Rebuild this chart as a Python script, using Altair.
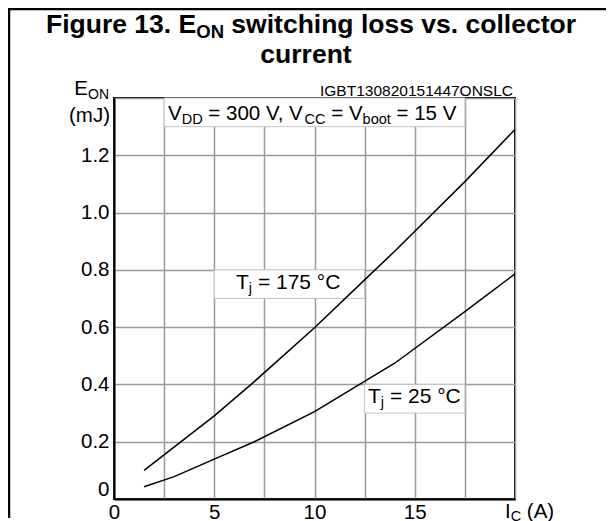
import altair as alt
import pandas as pd

# ---------------- data ----------------
ic_175 = [1.5, 5, 7, 10, 12.5, 14, 17.5, 20]
eon_175 = [0.10, 0.29, 0.41, 0.598, 0.765, 0.865, 1.108, 1.29]
ic_25 = [1.5, 3, 5, 7, 10, 14, 17.5, 20]
eon_25 = [0.043, 0.078, 0.139, 0.2, 0.305, 0.474, 0.654, 0.786]

x_grid = [0, 2.5, 5, 7.5, 10, 12.5, 15, 17.5, 20]
y_grid = [0, 0.1, 0.2, 0.3, 0.4, 0.5, 0.6, 0.7, 0.8, 0.9, 1.0, 1.1, 1.2, 1.3, 1.4]
x_labels = [0, 5, 10, 15]
y_labels = [0, 0.2, 0.4, 0.6, 0.8, 1.0, 1.2]

# white label boxes (in data units)
box_x0 = [2.5, 5, 12.5]
box_x1 = [17.5, 12.5, 17.5]
box_y0 = [1.3, 0.7, 0.3]
box_y1 = [1.4, 0.8, 0.4]

FONT = "Liberation Sans"
W, H = 401, 401

# ---------------- text width helper (Arial metrics) ----------------
REG = {' ': 278, '=': 584, ',': 278, '.': 278, '(': 333, ')': 333, '°': 400,
       'A': 667, 'B': 667, 'C': 722, 'D': 722, 'E': 667, 'G': 778, 'I': 278,
       'J': 500, 'L': 556, 'N': 722, 'O': 778, 'S': 667, 'T': 611, 'V': 667,
       'b': 556, 'j': 222, 'm': 833, 'o': 556, 't': 278}
BOLD = {' ': 278, '.': 278, 'E': 667, 'F': 611, 'N': 722, 'O': 778,
        'c': 556, 'e': 556, 'g': 611, 'h': 611, 'i': 278, 'l': 278, 'n': 611,
        'o': 611, 'r': 389, 's': 556, 't': 333, 'u': 611, 'v': 556, 'w': 778}


def text_w(t, size, bold=False):
    table = BOLD if bold else REG
    return sum((556 if ch.isdigit() else table.get(ch, 556)) for ch in t) * size / 1000.0


def rich(pieces, x, y, size, sub_size, sub_dy, bold=False, align="left"):
    widths = [text_w(t, sub_size if s else size, bold) for t, s in pieces]
    total = sum(widths)
    if align == "center":
        x -= total / 2
    elif align == "right":
        x -= total
    layers = []
    for (t, s), w in zip(pieces, widths):
        fs = sub_size if s else size
        stripped = t.lstrip(" ")
        lead = text_w(t[: len(t) - len(stripped)], fs, bold)
        stripped = stripped.rstrip(" ")
        if stripped:
            layers.append(
                alt.Chart(pd.DataFrame({"t": [stripped]}))
                .mark_text(align="left", baseline="alphabetic", font=FONT,
                           fontSize=fs, fontWeight="bold" if bold else "normal",
                           color="black")
                .encode(text="t:N", x=alt.value(x + lead),
                        y=alt.value(y + (sub_dy if s else 0)))
            )
        x += w
    return layers


# ---------------- data frames ----------------
curves = pd.concat([
    pd.DataFrame({"ic": ic_175, "eon": eon_175, "tj": "175"}),
    pd.DataFrame({"ic": ic_25, "eon": eon_25, "tj": "25"}),
])
boxes = pd.DataFrame({"x0": box_x0, "x1": box_x1, "y0": box_y0, "y1": box_y1})

x_scale = alt.Scale(domain=[0, 20], nice=False, zero=False)
y_scale = alt.Scale(domain=[0, 1.4], nice=False, zero=False)

x_axis = alt.Axis(values=x_grid, title=None, ticks=False, grid=True,
                  labelExpr=f"indexof({x_labels}, datum.value) >= 0 ? datum.label : ''",
                  labelPadding=3, labelFlush=False)
y_axis = alt.Axis(values=y_grid, title=None, ticks=False, grid=True,
                  labelExpr=f"indexof({y_labels}, datum.value) >= 0 ? (datum.value == 0 ? '0' : format(datum.value, '.1f')) : ''",
                  labelPadding=5, labelFlush=True)

grid = alt.Chart(curves).mark_line(opacity=0).encode(
    x=alt.X("ic:Q", scale=x_scale, axis=x_axis),
    y=alt.Y("eon:Q", scale=y_scale, axis=y_axis),
)

rects = alt.Chart(boxes).mark_rect(fill="white", stroke="#c4c4c4", strokeWidth=1).encode(
    x=alt.X("x0:Q", scale=x_scale),
    x2="x1:Q",
    y=alt.Y("y0:Q", scale=y_scale),
    y2="y1:Q",
)

lines = alt.Chart(curves).mark_line(color="black", strokeWidth=1.5).encode(
    x=alt.X("ic:Q", scale=x_scale),
    y=alt.Y("eon:Q", scale=y_scale),
    detail="tj:N",
)

# page coordinates -> plot coordinates (plot origin at page (114, 98))
OX, OY = 114, 98


def P(px, py):
    return px - OX, py - OY


texts = []
# title
tx, ty = P(311, 33)
texts += rich([("Figure 13. E", 0), ("ON", 1), (" switching loss vs. collector", 0)],
              tx, ty, 26.5, 18.5, 5, bold=True, align="center")
tx, ty = P(306, 63)
texts += rich([("current", 0)], tx, ty, 26.5, 18.5, 5, bold=True, align="center")
# code
tx, ty = P(513, 96)
texts += rich([("IGBT130820151447ONSLC", 0)], tx, ty, 15.5, 11, 3, align="right")
# y title
tx, ty = P(109, 95)
texts += rich([("E", 0), ("ON", 1)], tx, ty, 20.5, 14, 3.5, align="right")
tx, ty = P(110, 122)
texts += rich([("(mJ)", 0)], tx, ty, 20.5, 14.5, 3.5, align="right")
# x title
tx, ty = P(505, 517.5)
texts += rich([("I", 0), ("C", 1), (" (A)", 0)], tx, ty, 20.5, 14.5, 3.5)
# conditions
tx, ty = P(168, 120)
texts += rich([("V", 0), ("DD", 1), (" = 300 V, V", 0), ("CC", 1), (" = V", 0),
               ("boot", 1), (" = 15 V", 0)], tx, ty, 20.5, 14.5, 3.5)
# curve labels
tx, ty = P(236, 289)
texts += rich([("T", 0), ("j", 1), (" = 175 °C", 0)], tx, ty, 21, 14.5, 3.5)
tx, ty = P(368, 403.3)
texts += rich([("T", 0), ("j", 1), (" = 25 °C", 0)], tx, ty, 21, 14.5, 3.5)

# outer frame (table cell border)
one = pd.DataFrame({"a": [0]})
frame_v = alt.Chart(one).mark_rule(color="black", strokeWidth=2.5).encode(
    x=alt.value(-105), y=alt.value(-92), y2=alt.value(420))
frame_h = alt.Chart(one).mark_rule(color="black", strokeWidth=2.5).encode(
    x=alt.value(-106), x2=alt.value(500), y=alt.value(-89))

chart = alt.layer(grid, rects, lines, *texts, frame_v, frame_h).properties(
    width=W, height=H,
    autosize=alt.AutoSizeParams(type="none"),
    padding={"left": 106, "top": 90, "right": 91, "bottom": 23},
    background="white",
).configure_view(
    stroke="black", strokeWidth=2,
).configure_axis(
    domainColor="black", domainWidth=2,
    gridColor="#9a9a9a", gridWidth=1.5,
    labelFont=FONT, labelFontSize=20.5, labelColor="black",
)

chart.save("out.html", embed_options={"renderer": "svg", "actions": False})
